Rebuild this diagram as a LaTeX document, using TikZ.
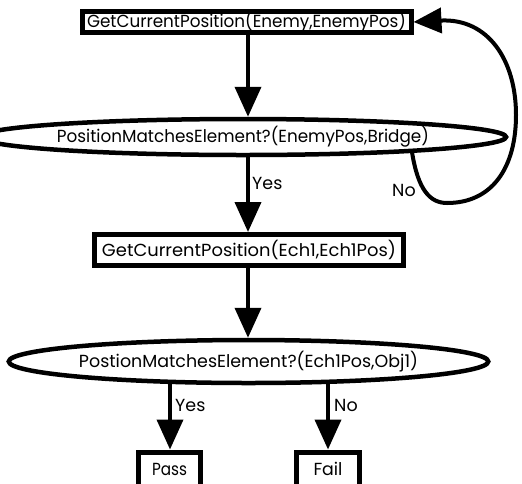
\documentclass[tikz,border=0pt]{standalone}
\usepackage{fontspec}
\usepackage{graphicx}
\setmainfont{Poppins}
\usetikzlibrary{arrows.meta,shapes.geometric}
\newcommand{\tw}[2]{\resizebox{#1pt}{\height}{#2}}
\tikzset{
  every node/.style={font=\fontsize{17.5}{19}\selectfont},
  procbox/.style={draw, line width=5pt, inner sep=0pt, fill=white},
  decision/.style={draw, ellipse, line width=4.5pt, inner sep=0pt, fill=white},
  flow/.style={line width=4pt, -{Triangle[length=30pt,width=26pt]}},
  lbl/.style={inner sep=0pt, anchor=west}
}
\begin{document}
\begin{tikzpicture}[x=1pt,y=-1pt]
\useasboundingbox (0,0) rectangle (522,483);
\node[procbox, minimum width=329pt, minimum height=21pt] (b1) at (246.5,22) {\tw{319}{GetCurrentPosition(Enemy,EnemyPos)}};
\node[decision, minimum width=470pt, minimum height=36pt] (e1) at (243,137) {\tw{372}{PositionMatchesElement?(EnemyPos,Bridge)}};
\node[procbox, minimum width=309pt, minimum height=31pt] (b2) at (249,250) {\tw{294}{GetCurrentPosition(Ech1,Ech1Pos)}};
\node[decision, minimum width=473pt, minimum height=43pt] (e2) at (248.5,361.5) {\tw{339}{PostionMatchesElement?(Ech1Pos,Obj1)}};
\node[procbox, minimum width=62pt, minimum height=34pt] (pass) at (169.5,469) {\tw{35}{Pass}};
\node[procbox, minimum width=63pt, minimum height=34pt] (fail) at (328,469) {\tw{29}{Fail}};

\coordinate (a1) at (248,0);
\draw[flow] (b1.south -| a1) -- (e1.north -| a1);
\draw[flow] (e1.south -| a1) -- (b2.north -| a1);
\draw[flow] (b2.south -| a1) -- (e2.north -| a1);
\coordinate (ay) at (170,0);
\coordinate (an) at (328,0);
\draw[flow] (e2.south -| ay) ++(0,-2) -- (pass.north -| ay);
\draw[flow] (e2.south -| an) ++(0,-2) -- (fail.north -| an);

\coordinate (ls) at (412,152);
\draw[line width=4pt, -{Triangle[length=28pt,width=25pt]}]
  (ls) .. controls (418,190) and (430,203) .. (447,203)
  .. controls (492,203) and (516,168) .. (516,115)
  .. controls (516,60) and (488,18) .. (b1.east);

\node[lbl] (ly1) at (252,183) {Yes};
\node[lbl] (ln1) at (392,190) {No};
\node[lbl] (ly2) at (175,405) {Yes};
\node[lbl] (ln2) at (334,405) {No};
\end{tikzpicture}
\end{document}
